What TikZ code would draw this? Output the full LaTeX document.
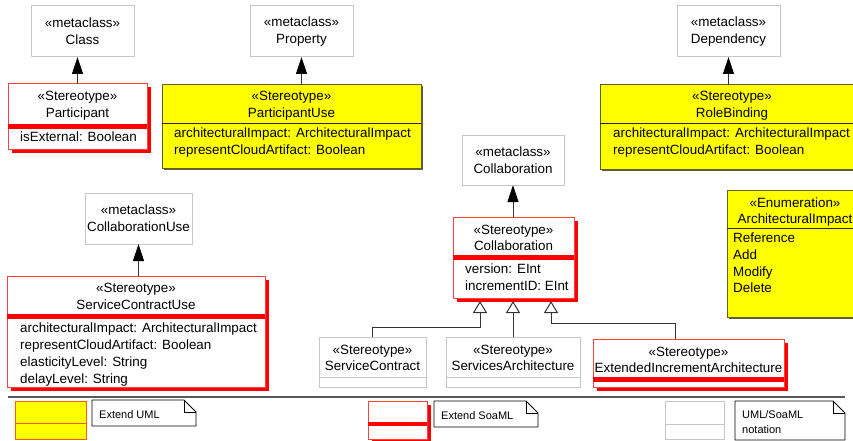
\documentclass[tikz,border=0pt]{standalone}
\usepackage{fontspec}
\setmainfont{Liberation Sans}
\usetikzlibrary{arrows.meta,positioning,shadows}

\definecolor{umlyellow}{RGB}{255,255,0}
\definecolor{yellowedge}{RGB}{95,95,50}
\definecolor{legendorange}{RGB}{255,96,0}

\tikzset{
  box/.style={rectangle,anchor=north west,inner sep=0pt,outer sep=0pt},
  metabox/.style={box,draw=gray!45,line width=1pt,fill=white,align=center,
    font=\fontsize{13.4}{16.7}\selectfont},
  redbox/.style={box,draw=red!75,line width=1pt,fill=white,
    general shadow={fill=red,shadow xshift=3.5pt,shadow yshift=-3.5pt}},
  yellowbox/.style={box,draw=yellowedge,line width=1pt,fill=umlyellow,
    general shadow={fill=yellowedge,shadow xshift=1.5pt,shadow yshift=-1.5pt}},
  headtxt/.style={inner sep=0pt,align=center,font=\fontsize{13.4}{16.7}\selectfont},
  attrtxt/.style={inner sep=0pt,align=left,anchor=north west,font=\fontsize{13.4}{16.7}\selectfont},
  notebox/.style={box},
  notetxt/.style={inner sep=0pt,align=left,anchor=north west,font=\fontsize{11}{15}\selectfont},
  reddiv/.style={red,line width=5pt},
  graydiv/.style={gray!45,line width=1pt},
  yellowdiv/.style={black!85,line width=1pt},
  ext/.style={black!80,line width=1pt,-{Triangle[length=17pt,width=11pt,black]}},
  gen/.style={black!80,line width=1pt,-{Triangle[open,length=12pt,width=14pt,fill=white]}},
}

% 付箋の折り返し
\newcommand{\notefold}[1]{%
  \draw[black,line width=0.8pt] (#1.north west) -- ([xshift=-12pt]#1.north east)
    -- ([yshift=-12pt]#1.north east) -- (#1.south east) -- (#1.south west) -- cycle;
  \draw[black,line width=0.8pt] ([xshift=-12pt]#1.north east) |- ([yshift=-12pt]#1.north east);}

\begin{document}
\begin{tikzpicture}[x=1pt,y=-1pt]
  \useasboundingbox (0,0) rectangle (853,441);
  \clip (0,0) rectangle (853,441);

  % メタクラス
  \node[metabox,minimum width=103pt,minimum height=51pt] (cls) at (31,6) {«metaclass»\\Class};
  \node[metabox,minimum width=103pt,minimum height=51pt] (prop) at (250,6) {«metaclass»\\Property};
  \node[metabox,minimum width=103pt,minimum height=51pt] (dep) at (677,6) {«metaclass»\\Dependency};
  \node[metabox,minimum width=102pt,minimum height=50pt] (collabmeta) at (462,135) {«metaclass»\\Collaboration};
  \node[metabox,minimum width=107pt,minimum height=51pt] (cusemeta) at (85,193) {«metaclass»\\CollaborationUse};

  % Participant
  \node[redbox,minimum width=139pt,minimum height=65pt] (part) at (8,84) {};
  \draw[reddiv] ([yshift=-42pt]part.north west) -- ([yshift=-42pt]part.north east);
  \node[headtxt] at ([yshift=-22pt]part.north) {«Stereotype»\\Participant};
  \node[attrtxt] at ([xshift=12pt,yshift=-48pt]part.north west) {isExternal: Boolean};

  % ParticipantUse
  \node[yellowbox,minimum width=259pt,minimum height=83pt] (puse) at (162,85) {};
  \draw[yellowdiv] ([yshift=-38pt]puse.north west) -- ([yshift=-38pt]puse.north east);
  \node[headtxt] at ([yshift=-21pt]puse.north) {«Stereotype»\\ParticipantUse};
  \node[attrtxt] at ([xshift=12pt,yshift=-43pt]puse.north west)
    {architecturalImpact: ArchitecturalImpact\\representCloudArtifact: Boolean};

  % RoleBinding
  \node[yellowbox,minimum width=264pt,minimum height=84pt] (rolebind) at (600,85) {};
  \draw[yellowdiv] ([yshift=-38pt]rolebind.north west) -- ([yshift=-38pt]rolebind.north east);
  \node[headtxt] at ([yshift=-21pt]rolebind.north) {«Stereotype»\\RoleBinding};
  \node[attrtxt] at ([xshift=13pt,yshift=-43pt]rolebind.north west)
    {architecturalImpact: ArchitecturalImpact\\representCloudArtifact: Boolean};

  % ServiceContractUse
  \node[redbox,minimum width=258pt,minimum height=111pt] (scuse) at (7,276) {};
  \draw[reddiv] ([yshift=-40pt]scuse.north west) -- ([yshift=-40pt]scuse.north east);
  \node[headtxt] at ([yshift=-20.5pt]scuse.north) {«Stereotype»\\ServiceContractUse};
  \node[attrtxt] at ([xshift=13pt,yshift=-47pt]scuse.north west)
    {architecturalImpact: ArchitecturalImpact\\representCloudArtifact: Boolean\\
     elasticityLevel: String\\delayLevel: String};

  % Collaboration
  \node[redbox,minimum width=121pt,minimum height=81pt] (collab) at (453,217) {};
  \draw[reddiv] ([yshift=-40pt]collab.north west) -- ([yshift=-40pt]collab.north east);
  \node[headtxt] at ([yshift=-21pt]collab.north) {«Stereotype»\\Collaboration};
  \node[attrtxt] at ([xshift=12pt,yshift=-47pt]collab.north west) {version: EInt\\incrementID: EInt};
  \coordinate (collabfoot) at ([yshift=-3pt]collab.south);

  % 列挙型
  \node[yellowbox,minimum width=136pt,minimum height=127pt] (enumimpact) at (727,190) {};
  \draw[yellowdiv] ([yshift=-38pt]enumimpact.north west) -- ([yshift=-38pt]enumimpact.north east);
  \node[headtxt] at ([yshift=-22pt]enumimpact.north) {«Enumeration»\\ArchitecturalImpact};
  \node[attrtxt] at ([xshift=6pt,yshift=-43pt]enumimpact.north west) {Reference\\Add\\Modify\\Delete};

  % 下段のステレオタイプ
  \node[metabox,minimum width=107pt,minimum height=50pt] (scontract) at (319,337) {};
  \draw[graydiv] ([yshift=-40pt]scontract.north west) -- ([yshift=-40pt]scontract.north east);
  \node[headtxt] at ([yshift=-21pt]scontract.north) {«Stereotype»\\ServiceContract};

  \node[metabox,minimum width=134pt,minimum height=50pt] (sarch) at (446,337) {};
  \draw[graydiv] ([yshift=-40pt]sarch.north west) -- ([yshift=-40pt]sarch.north east);
  \node[headtxt] at ([yshift=-21pt]sarch.north) {«Stereotype»\\ServicesArchitecture};

  \node[redbox,minimum width=191pt,minimum height=48pt] (eiarch) at (593,339) {};
  \draw[reddiv] ([yshift=-40.5pt]eiarch.north west) -- ([yshift=-40.5pt]eiarch.north east);
  \node[headtxt] at ([yshift=-21pt]eiarch.north) {«Stereotype»\\ExtendedIncrementArchitecture};

  % 拡張
  \draw[ext] (part.north) -- (part.north |- cls.south);
  \draw[ext] (prop.south |- puse.north) -- (prop.south);
  \draw[ext] (dep.south |- rolebind.north) -- (dep.south);
  \draw[ext] (cusemeta.south |- scuse.north) -- (cusemeta.south);
  \draw[ext] (collabmeta.south |- collab.north) -- (collabmeta.south);

  % 汎化
  \draw[gen] (scontract.north) -- ++(0,-10) -| ([xshift=-33.5pt]collabfoot);
  \draw[gen] (sarch.north) -- (sarch.north |- collabfoot);
  \draw[gen] ([xshift=-13.5pt]eiarch.north) -- ++(0,-16) -| ([xshift=37.5pt]collabfoot);

  % 凡例
  \draw[black!65,line width=1.3pt] (8,397) -- (845,397);

  \node[box,draw=legendorange,fill=umlyellow,line width=1pt,minimum width=71pt,minimum height=38pt] (legyellow) at (15,401) {};
  \draw[legendorange,line width=1pt] ([yshift=-22pt]legyellow.north west) -- ([yshift=-22pt]legyellow.north east);
  \node[notebox,minimum width=104pt,minimum height=26pt] (noteuml) at (92,400) {};
  \notefold{noteuml}
  \node[notetxt] at ([xshift=7pt,yshift=-10pt]noteuml.north west) {Extend UML};

  \node[redbox,minimum width=59pt,minimum height=38pt] (legred) at (368,401) {};
  \draw[red,line width=4pt] ([yshift=-23pt]legred.north west) -- ([yshift=-23pt]legred.north east);
  \node[notebox,minimum width=104pt,minimum height=26pt] (notesoaml) at (434,401) {};
  \notefold{notesoaml}
  \node[notetxt] at ([xshift=7pt,yshift=-10pt]notesoaml.north west) {Extend SoaML};

  \node[metabox,minimum width=59pt,minimum height=38pt] (leggray) at (665,401) {};
  \draw[graydiv] ([yshift=-23pt]leggray.north west) -- ([yshift=-23pt]leggray.north east);
  \node[notebox,minimum width=110pt,minimum height=39pt] (notenotation) at (735,401) {};
  \notefold{notenotation}
  \node[notetxt] at ([xshift=7pt,yshift=-9pt]notenotation.north west) {UML/SoaML\\notation};
\end{tikzpicture}
\end{document}
